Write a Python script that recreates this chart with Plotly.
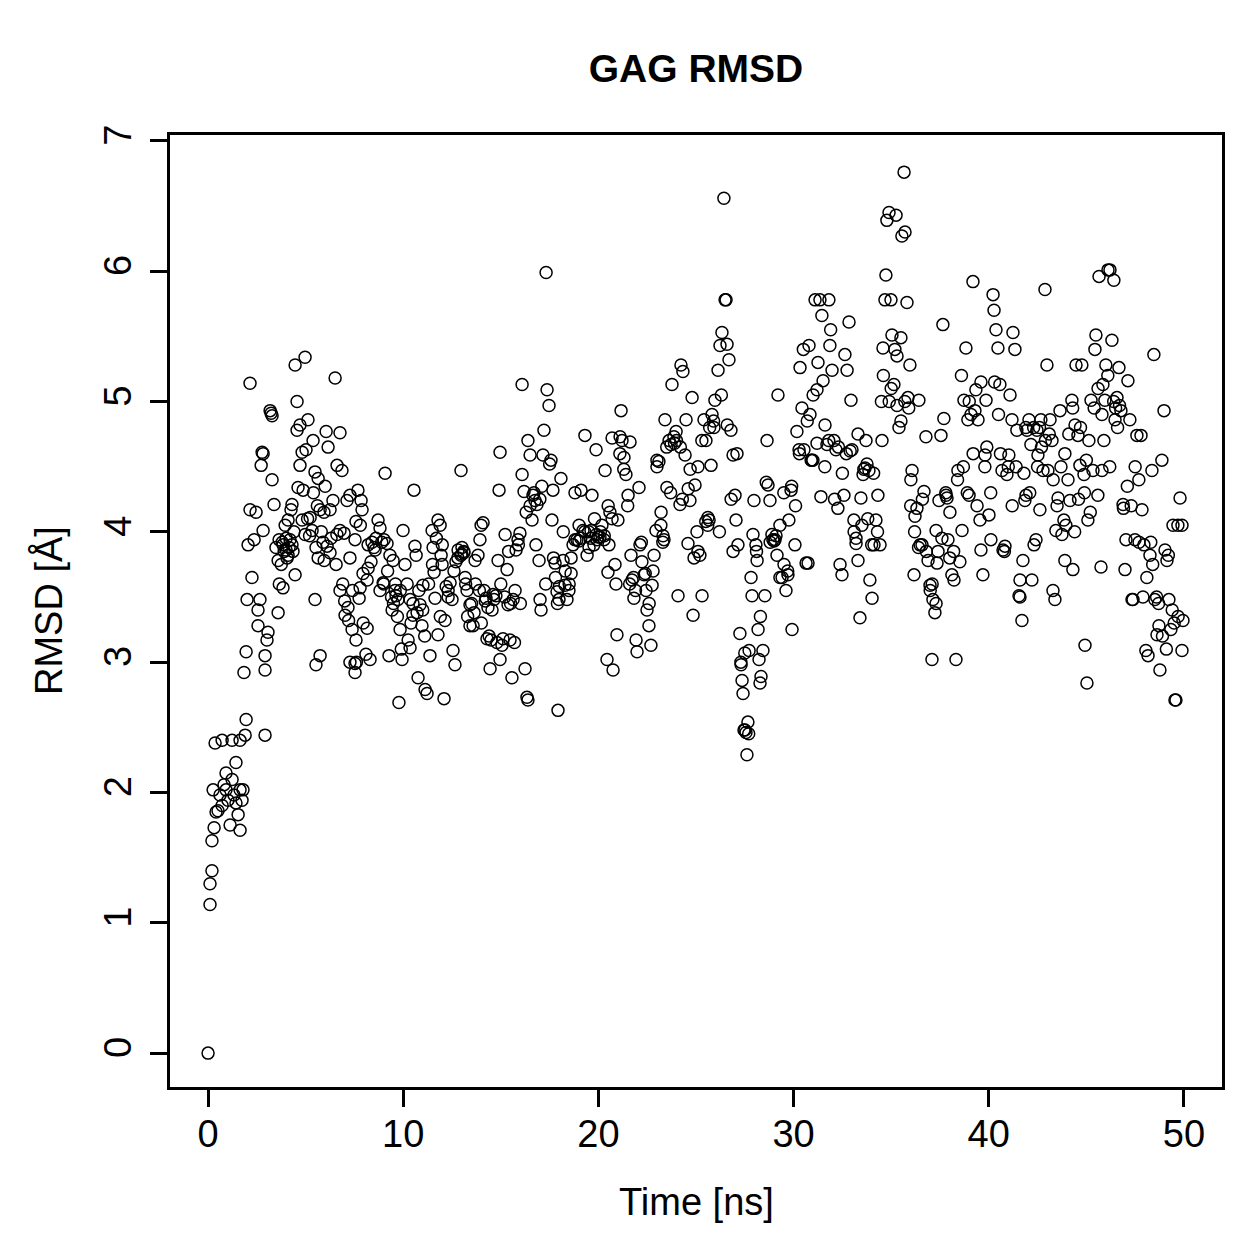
import plotly.graph_objects as go

# ---- data: simulation time [ns] and GAG RMSD [Å] ----
time_0_10 = [0, .10, .10, .20, .20, .31, .26, .36, .72, 1.23, 1.64, 1.43, .92, .51, .72, 1.02, 1.33, 1.64, 1.74, 1.54, 1.13, 1.64, .61, .92, 1.23, 1.90, 1.95, 1.79, .41, .82, 1.43,
             2.15, 1.84, 1.95, 2.00, 2.05, 2.15, 2.25, 2.36, 2.46, 2.56, 2.56, 2.66, 2.77, 2.82, 2.72, 2.82, 2.92, 2.92, 2.92, 3.02, 3.07, 3.18, 3.23, 3.28, 3.28, 3.38, 3.48, 3.59, 3.64, 3.59, 3.84, 3.84, 4.00, 4.10, 4.20, 4.25, 4.10, 4.30,
             4.46, 4.97, 4.56, 4.56, 4.71, 4.82, 5.02, 4.71, 4.61, 4.87, 5.12, 5.38, 4.30, 4.46, 4.82, 4.97, 5.23, 5.33, 5.48, 5.64, 5.53, 5.64, 5.48, 5.53, 5.74, 5.74, 5.94, 6.05, 6.15, 5.89, 6.10, 6.25, 6.25, 6.40,
             6.51, 6.61, 6.86, 6.76, 6.76, 6.97, 7.12, 7.27, 6.56, 6.76, 7.02, 7.17, 7.27, 7.53, 7.53, 7.27, 7.53, 7.58, 7.68, 7.84, 7.89, 7.38, 7.58, 7.74, 7.79, 7.94,
             8.15, 8.20, 8.35, 8.09, 8.30, 8.15, 8.40, 8.56, 8.71, 8.81, 8.81, 8.97, 9.07, 9.02, 9.17, 9.32, 9.27, 9.43, 9.58, 9.48, 9.63, 9.73, 9.84, 9.78, 9.94, 9.99]
rmsd_0_10 = [0, 1.14, 1.30, 1.40, 1.63, 1.73, 2.02, 2.38, 2.40, 2.40, 2.40, 2.23, 2.15, 1.86, 1.90, 1.94, 1.98, 2.02, 1.94, 1.83, 1.75, 1.71, 1.98, 2.02, 2.10, 2.44, 2.56, 2.02, 1.85, 2.06, 1.92,
             5.14, 2.92, 3.08, 3.48, 3.90, 4.17, 3.65, 3.94, 4.15, 3.40, 3.28, 3.48, 4.61, 4.60, 4.51, 4.01, 2.44, 2.94, 3.05, 3.17, 3.23, 4.93, 4.91, 4.89, 4.40, 4.21, 3.88, 3.78, 3.94, 3.38, 3.57, 3.90, 3.86, 3.82, 3.94, 4.17, 4.09, 3.90,
             5.28, 5.34, 5.00, 4.78, 4.82, 4.61, 4.63, 4.51, 4.34, 4.32, 4.86, 4.70, 4.21, 3.67, 4.09, 3.98, 4.11, 4.01, 4.46, 4.41, 3.88, 3.80, 3.48, 2.98, 3.05, 4.17, 4.15, 4.77, 4.65, 3.92, 3.89, 3.84, 4.17, 4.24,
             5.18, 4.51, 4.47, 4.76, 4.01, 3.99, 4.24, 4.28, 3.75, 3.55, 3.36, 3.42, 3.00, 2.92, 2.99, 3.80, 3.94, 4.08, 4.32, 4.24, 4.17, 3.25, 3.17, 3.49, 3.57, 3.68,
             3.63, 3.72, 3.77, 3.06, 3.02, 3.26, 3.92, 3.86, 4.09, 4.03, 3.55, 3.61, 4.45, 3.94, 3.91, 3.82, 3.05, 3.40, 3.55, 3.78, 3.51, 3.48, 3.25, 2.69, 3.02, 4.01]

time_10_20 = [10.09, 10.25, 10.35, 10.35, 10.55, 10.60, 10.66, 10.50, 10.71, 10.76, 10.86, 10.96, 11.01, 11.12, 11.22, 11.37, 11.48, 11.53, 11.58, 11.63, 11.78, 11.78, 11.89, 11.94, 11.99,
              12.09, 12.14, 12.30, 12.40, 12.50, 12.55, 12.65, 12.70, 12.81, 12.96, 12.96, 13.01, 13.11, 13.17, 13.27, 13.42, 13.42, 13.58, 13.63, 13.68, 13.83, 13.93, 13.99,
              14.09, 14.14, 14.24, 14.34, 14.29, 14.45, 14.50, 14.55, 14.65, 14.75, 14.86, 14.91, 14.96, 14.96, 15.06, 15.11, 15.22, 15.32, 15.37, 15.47, 15.57, 15.63, 15.73, 15.78, 15.88, 15.98,
              16.09, 16.09, 16.19, 16.24, 16.34, 16.39, 16.39, 16.50, 16.60, 16.65, 16.75, 16.85, 16.96, 17.01, 17.06, 17.16, 17.21, 17.32, 17.37, 17.47, 17.57, 17.62, 17.67, 17.78, 17.88, 17.93, 17.98,
              18.08, 18.19, 18.29, 18.39, 18.49, 18.60, 18.70, 18.80, 18.90, 19.01, 19.11, 19.21, 19.31, 19.42, 19.52, 19.62, 19.67, 19.77, 19.88, 19.93, 19.98]
rmsd_10_20 = [3.75, 3.17, 3.11, 3.48, 4.32, 3.89, 3.82, 3.36, 3.38, 2.88, 3.44, 3.28, 3.59, 2.79, 2.76, 3.05, 4.01, 3.88, 3.69, 3.49, 3.21, 4.09, 4.05, 3.82, 3.75,
              2.72, 3.32, 3.55, 3.61, 3.48, 3.09, 2.98, 3.77, 3.86, 4.47, 3.82, 3.88, 3.84, 3.65, 3.55, 3.44, 3.28, 3.28, 3.38, 3.78, 3.82, 3.94, 4.05,
              4.07, 3.55, 3.49, 3.42, 3.18, 2.95, 3.17, 3.40, 3.48, 3.51, 3.78, 4.32, 4.61, 3.02, 3.13, 3.18, 3.98, 3.71, 3.44, 3.17, 2.88, 3.48, 3.55, 3.86, 3.94, 3.99,
              5.13, 4.44, 4.31, 2.95, 2.73, 2.71, 4.70, 4.59, 4.09, 4.28, 4.24, 4.21, 3.78, 3.48, 3.40, 4.59, 4.78, 5.99, 5.09, 4.97, 4.55, 4.09, 4.32, 3.76, 3.54, 2.63, 3.48,
              4.41, 3.78, 3.59, 3.48, 3.55, 3.68, 3.90, 3.94, 3.94, 4.05, 4.32, 4.01, 4.74, 3.82, 3.88, 4.01, 4.28, 3.90, 4.63, 3.94, 3.96]

time_20_30 = [20.08, 20.18, 20.29, 20.34, 20.44, 20.49, 20.54, 20.59, 20.70, 20.75, 20.85, 20.95, 21.00, 21.11, 21.16, 21.21, 21.31, 21.41, 21.52, 21.62, 21.67, 21.72, 21.82, 21.93,
              21.98, 22.08, 22.13, 22.23, 22.34, 22.44, 22.49, 22.59, 22.69, 22.75, 22.85, 22.95, 23.00, 23.10, 23.21, 23.31, 23.36, 23.41, 23.51, 23.62, 23.72, 23.77, 23.87, 23.98,
              24.08, 24.18, 24.23, 24.33, 24.44, 24.49, 24.59, 24.69, 24.80, 24.85, 24.95, 25.05, 25.10, 25.20, 25.31, 25.41, 25.51, 25.61, 25.67, 25.77, 25.82, 25.92, 25.97,
              26.13, 26.23, 26.33, 26.43, 26.49, 26.54, 26.59, 26.69, 26.79, 26.90, 27.00, 27.05, 27.15, 27.25, 27.31, 27.36, 27.41, 27.46, 27.51, 27.56, 27.61, 27.66, 27.72, 27.82, 27.87, 27.92, 27.97,
              28.07, 28.13, 28.18, 28.23, 28.28, 28.33, 28.43, 28.53, 28.64, 28.69, 28.79, 28.89, 28.94, 29.05, 29.15, 29.20, 29.30, 29.41, 29.51, 29.61, 29.71, 29.76, 29.87, 29.92]
rmsd_20_30 = [3.96, 4.05, 3.94, 4.47, 3.02, 3.69, 3.90, 4.15, 4.72, 2.94, 3.75, 3.21, 4.09, 4.73, 4.93, 4.70, 4.57, 4.44, 4.28, 4.69, 3.82, 3.63, 3.49, 3.17,
              3.08, 4.34, 3.90, 3.77, 3.67, 3.55, 3.40, 3.28, 3.13, 3.59, 3.82, 4.01, 4.55, 4.54, 4.15, 3.97, 3.94, 4.86, 4.34, 4.70, 4.67, 5.13, 4.73, 4.77,
              3.51, 4.21, 5.28, 5.23, 4.59, 4.86, 3.91, 4.24, 5.03, 3.36, 4.36, 4.00, 3.85, 3.82, 3.51, 4.86, 4.70, 4.11, 4.09, 4.51, 4.90, 4.80, 5.01,
              5.24, 5.43, 5.53, 6.56, 5.78, 5.78, 5.44, 5.32, 4.78, 4.59, 4.28, 4.09, 3.90, 3.22, 2.98, 2.86, 2.76, 2.48, 2.48, 2.46, 2.29, 2.54, 3.09, 3.65, 3.51, 3.98, 4.24,
              3.90, 3.78, 3.25, 3.02, 2.84, 2.89, 3.09, 3.51, 4.70, 4.36, 4.24, 3.98, 3.94, 3.94, 3.82, 5.05, 4.05, 3.65, 3.75, 3.55, 3.67, 4.09, 4.32, 3.25]

time_30_40 = [30.07, 30.17, 30.28, 30.33, 30.43, 30.53, 30.64, 30.74, 30.79, 30.84, 30.94, 30.99, 31.10, 31.20, 31.25, 31.35, 31.45, 31.51, 31.61, 31.71, 31.81, 31.86, 31.97,
              32.07, 32.17, 32.27, 32.38, 32.48, 32.58, 32.63, 32.74, 32.84, 32.94, 32.99, 33.09, 33.20, 33.30, 33.40, 33.45, 33.56, 33.66, 33.71, 33.76, 33.86, 33.91,
              34.02, 34.12, 34.22, 34.32, 34.43, 34.53, 34.58, 34.68, 34.73, 34.78, 34.89, 34.99, 35.04, 35.14, 35.19, 35.25, 35.30, 35.40, 35.50, 35.55, 35.66, 35.71, 35.81, 35.86, 35.96,
              36.01, 36.07, 36.17, 36.22, 36.32, 36.42, 36.48, 36.58, 36.68, 36.78, 36.89, 36.99, 37.09, 37.14, 37.24, 37.30, 37.35, 37.45, 37.55, 37.65, 37.70, 37.81, 37.86, 37.91,
              38.01, 38.11, 38.22, 38.32, 38.42, 38.52, 38.63, 38.73, 38.83, 38.93, 38.99, 39.09, 39.19, 39.29, 39.34, 39.45, 39.55, 39.60, 39.70, 39.81, 39.86]
rmsd_30_40 = [3.90, 4.77, 4.63, 5.26, 4.95, 4.63, 3.76, 3.76, 5.43, 4.90, 4.55, 4.55, 5.78, 5.09, 5.30, 5.78, 5.66, 5.16, 4.82, 4.67, 5.78, 5.43, 5.24,
              4.70, 4.63, 4.18, 3.75, 3.67, 4.28, 5.36, 5.24, 5.61, 5.01, 4.63, 4.09, 3.91, 3.78, 3.34, 4.26, 4.44, 4.49, 4.70, 4.52, 4.47, 3.63,
              3.49, 3.90, 4.09, 4.28, 3.90, 4.70, 5.41, 5.78, 5.97, 6.39, 6.45, 5.78, 5.51, 5.13, 5.40, 6.43, 4.97, 4.80, 5.49, 6.27, 6.76, 6.30, 5.76, 5.03, 5.28,
              4.40, 4.47, 3.67, 4.12, 4.18, 5.01, 3.90, 3.90, 4.31, 4.73, 3.78, 3.59, 3.02, 3.48, 3.38, 4.01, 3.76, 4.24, 4.74, 5.59, 4.87, 4.28, 4.26, 3.94,
              4.15, 3.67, 3.63, 3.02, 4.47, 3.77, 4.01, 5.01, 5.41, 4.86, 4.28, 4.90, 5.92, 4.93, 5.09, 4.86, 4.09, 3.86, 3.67, 4.59, 5.01]

time_40_50 = [40.01, 40.11, 40.22, 40.27, 40.37, 40.47, 40.57, 40.68, 40.73, 40.83, 40.93, 41.03, 41.09, 41.19, 41.24, 41.34, 41.44, 41.55, 41.60, 41.70, 41.75, 41.85, 41.91, 41.96,
              42.06, 42.16, 42.21, 42.32, 42.42, 42.47, 42.52, 42.62, 42.67, 42.78, 42.88, 42.98, 43.03, 43.14, 43.24, 43.29, 43.39, 43.44, 43.55, 43.65, 43.75, 43.85, 43.90, 43.95,
              44.06, 44.16, 44.26, 44.31, 44.42, 44.47, 44.57, 44.67, 44.77, 44.88, 44.93, 45.03, 45.08, 45.13, 45.24, 45.34, 45.44, 45.49, 45.59, 45.65, 45.75, 45.80, 45.85, 45.95,
              46.00, 46.11, 46.21, 46.31, 46.41, 46.47, 46.57, 46.67, 46.77, 46.88, 46.98, 47.03, 47.13, 47.23, 47.34, 47.39, 47.49, 47.59, 47.69, 47.80, 47.85, 47.95,
              48.05, 48.16, 48.26, 48.36, 48.46, 48.51, 48.62, 48.72, 48.77, 48.87, 48.98, 49.03, 49.13, 49.23, 49.33, 49.44, 49.54, 49.59, 49.69, 49.80, 49.90, 49.95]
rmsd_40_50 = [4.13, 3.94, 5.82, 5.70, 5.55, 5.41, 5.13, 4.47, 3.86, 3.89, 4.44, 4.59, 5.05, 4.86, 5.53, 5.40, 4.78, 3.51, 3.63, 3.32, 3.78, 4.24, 4.28, 4.78,
              4.86, 4.67, 3.63, 3.90, 3.94, 4.78, 4.59, 4.17, 4.86, 4.47, 5.86, 5.28, 4.47, 4.86, 4.70, 3.55, 3.48, 4.01, 4.26, 4.93, 3.98, 4.09, 3.78, 4.05,
              4.40, 4.24, 5.01, 3.71, 4.82, 5.28, 4.74, 4.51, 5.28, 4.44, 3.13, 2.84, 4.09, 4.70, 5.01, 4.47, 5.40, 5.51, 4.28, 5.96, 3.73, 4.47, 5.13, 5.01,
              5.28, 6.01, 6.01, 5.47, 5.93, 4.86, 5.03, 5.26, 4.93, 4.21, 3.71, 3.94, 5.16, 4.86, 3.48, 3.48, 3.94, 4.74, 4.40, 4.74, 4.17, 3.90,
              3.09, 3.05, 3.82, 4.47, 5.36, 3.48, 3.21, 3.28, 2.94, 4.55, 4.93, 3.86, 3.78, 3.48, 3.25, 4.05, 2.71, 2.71, 4.05, 4.26, 3.09, 3.32]

# additional frames inside the dense bands
time_dense_0_25 = [3.9, 4.0, 4.05, 4.15, 4.35, 3.75, 3.95, 4.4, 3.65, 3.8,
                   5.1, 5.2, 5.4, 5.6, 5.8, 5.95, 6.0, 6.3,
                   6.6, 6.9, 7.0, 7.2, 7.4, 7.6, 7.8, 7.95,
                   8.2, 8.5, 8.6, 8.9, 9.0, 9.2, 9.4, 9.5, 9.6, 9.7, 9.9, 9.85,
                   10.2, 10.4, 10.5, 10.8, 11.0, 11.1, 11.3, 11.5, 11.7, 11.9, 12.0,
                   12.2, 12.3, 12.6, 12.8, 13.0, 13.1, 13.2, 13.3, 13.5, 13.7, 13.9, 14.0,
                   14.2, 14.4, 14.6, 14.8, 15.0, 15.2, 15.4, 15.5, 15.7, 15.9, 16.0,
                   16.3, 16.5, 16.7, 16.8, 17.0, 17.1, 17.3, 17.5, 17.7, 17.8, 17.9, 18.0,
                   18.2, 18.3, 18.5, 18.6, 18.8, 19.0, 19.1, 19.3, 19.5, 19.6, 19.8, 19.9,
                   20.1, 20.3, 20.5, 20.7, 20.9, 21.1, 21.3, 21.5, 21.6, 21.8, 21.9,
                   22.2, 22.4, 22.6, 22.8, 23.0, 23.2, 23.3, 23.5, 23.7, 23.9, 24.0,
                   24.2, 24.3, 24.6, 24.7, 24.9]
rmsd_dense_0_25 = [3.85, 3.95, 3.8, 3.88, 3.85, 3.75, 4.05, 4.0, 3.6, 3.92,
                   4.1, 3.97, 4.3, 4.2, 4.0, 3.78, 4.35, 3.95,
                   3.98, 3.6, 3.47, 3.32, 3.55, 3.0, 4.05, 3.3,
                   3.9, 3.88, 3.95, 3.92, 3.6, 3.7, 3.5, 3.45, 3.6, 3.35, 3.1, 3.55,
                   3.6, 3.3, 3.45, 3.55, 3.4, 3.2, 3.6, 3.75, 3.95, 3.35, 3.9,
                   3.58, 3.5, 3.7, 3.8, 3.83, 3.85, 3.6, 3.35, 3.45, 3.6, 3.55, 3.3,
                   3.47, 3.2, 3.52, 3.15, 3.6, 3.5, 3.85, 3.45, 3.15, 3.9, 3.45,
                   4.15, 4.2, 4.3, 3.9, 4.25, 4.35, 3.6, 4.52, 3.8, 3.65, 3.45, 3.58,
                   4.0, 3.7, 3.6, 3.8, 4.3, 3.93, 3.95, 4.0, 4.0, 3.95, 4.1, 3.98,
                   4.0, 3.97, 4.2, 4.1, 3.6, 4.6, 4.48, 4.2, 3.6, 3.65, 3.55,
                   3.92, 3.68, 3.45, 3.7, 4.5, 4.05, 3.92, 4.65, 4.3, 4.68, 4.7,
                   4.65, 4.25, 4.33, 4.48, 3.8]

time_dense_25_50 = [25.1, 25.3, 25.5, 25.6, 25.7, 25.9,
                    26.2, 26.3, 26.6, 26.8, 26.9, 27.1, 27.3, 27.5, 27.7,
                    28.1, 28.3, 28.6, 28.8, 29.0, 29.1, 29.3, 29.5, 29.7, 29.9,
                    30.1, 30.3, 30.5, 30.7, 30.9, 31.0, 31.2, 31.4, 31.6, 31.8, 31.9,
                    32.1, 32.3, 32.5, 32.7, 32.9, 33.1, 33.2, 33.3, 33.5, 33.6, 33.8, 34.0,
                    34.1, 34.3, 34.5, 34.6, 34.9, 35.0, 35.3, 35.5, 35.7, 35.9, 36.0,
                    36.2, 36.4, 36.6, 36.8, 37.0, 37.1, 37.3, 37.4, 37.6, 37.8, 38.0,
                    38.2, 38.4, 38.6, 38.7, 38.9, 39.0, 39.2, 39.4, 39.6, 39.8, 39.9,
                    40.1, 40.3, 40.5, 40.6, 40.8, 41.0, 41.2, 41.4, 41.6, 41.8, 41.9,
                    42.1, 42.3, 42.5, 42.6, 42.7, 42.9, 43.1, 43.3, 43.5, 43.7, 43.9,
                    44.1, 44.3, 44.4, 44.6, 44.7, 44.9, 45.0, 45.2, 45.4, 45.6, 45.8, 45.9,
                    46.1, 46.2, 46.4, 46.5, 46.6, 46.7, 46.9, 47.1, 47.3, 47.5, 47.7, 47.9,
                    48.1, 48.3, 48.4, 48.6, 48.7, 48.9, 49.1, 49.2, 49.4, 49.5, 49.7, 49.9]
rmsd_dense_25_50 = [4.5, 4.7, 4.08, 4.05, 4.8, 4.85,
                    4.0, 5.05, 4.82, 4.25, 3.85, 4.6, 3.0, 3.07, 2.45,
                    3.85, 3.35, 4.38, 3.92, 3.93, 3.97, 3.65, 4.3, 3.7, 4.35,
                    4.2, 4.6, 5.4, 4.85, 4.55, 5.05, 4.68, 4.27, 4.5, 4.7, 5.55,
                    4.25, 4.65, 4.45, 4.6, 4.62, 4.0, 3.95, 4.75, 4.05, 4.48, 4.1, 3.9,
                    4.45, 4.0, 5.0, 5.2, 5.0, 5.1, 5.35, 4.85, 5.0, 4.95, 4.2,
                    4.0, 3.88, 4.25, 3.85, 3.55, 3.6, 3.45, 3.85, 3.95, 4.3, 3.8,
                    3.85, 4.4, 5.2, 4.5, 4.3, 5.0, 4.6, 4.2, 5.15, 4.5, 4.65,
                    4.3, 5.15, 4.9, 4.6, 3.85, 4.5, 4.2, 4.5, 3.5, 4.45, 4.8,
                    4.3, 4.8, 4.5, 4.8, 4.65, 4.7, 4.75, 4.4, 4.2, 4.5, 4.6,
                    4.75, 4.95, 4.0, 4.25, 4.8, 4.3, 4.55, 4.15, 4.95, 5.1, 4.9, 4.7,
                    5.2, 4.5, 5.0, 4.95, 4.8, 4.97, 4.18, 4.35, 4.2, 4.5, 3.92, 3.5,
                    3.65, 3.92, 3.75, 3.5, 3.45, 3.2, 3.1, 3.82, 3.4, 3.3, 3.35, 4.05]

x_ticks = [0, 10, 20, 30, 40, 50]
y_ticks = [0, 1, 2, 3, 4, 5, 6, 7]

title_text = "GAG RMSD"
x_label = "Time [ns]"
y_label = "RMSD [Å]"

time_ns = []
rmsd = []
for t, r in [(time_0_10, rmsd_0_10), (time_10_20, rmsd_10_20), (time_20_30, rmsd_20_30),
             (time_30_40, rmsd_30_40), (time_40_50, rmsd_40_50),
             (time_dense_0_25, rmsd_dense_0_25), (time_dense_25_50, rmsd_dense_25_50)]:
    n = min(len(t), len(r))
    time_ns += t[:n]
    rmsd += r[:n]

FONT = "Liberation Sans, Arial, Helvetica, sans-serif"

fig = go.Figure()
fig.add_trace(go.Scatter(
    x=time_ns, y=rmsd, mode="markers",
    marker=dict(symbol="circle-open", size=12, color="black", line=dict(width=1.5, color="black")),
    showlegend=False, hoverinfo="x+y",
))

axis_common = dict(
    showline=True, linecolor="black", linewidth=3, mirror=True,
    ticks="outside", ticklen=17, tickwidth=2.5, tickcolor="black",
    showgrid=False, zeroline=False,
    tickfont=dict(family=FONT, size=38, color="black"),
)

fig.update_layout(
    width=1259, height=1259,
    paper_bgcolor="white", plot_bgcolor="white",
    margin=dict(l=170, r=37, t=135, b=172),
    title=dict(text="<b>" + title_text + "</b>", x=696 / 1259, xanchor="center",
               y=1 - 68 / 1259, yanchor="middle",
               font=dict(family=FONT, size=39, color="black")),
    xaxis=dict(range=[-1.95, 51.95], tickvals=x_ticks, ticktext=[str(v) for v in x_ticks],
               ticklabelstandoff=-6, **axis_common),
    yaxis=dict(range=[-0.26, 7.045], tickvals=y_ticks, ticktext=[str(v) for v in y_ticks],
               tickangle=-90, ticklabelstandoff=4, **axis_common),
    annotations=[
        dict(text=x_label, xref="paper", yref="paper", x=0.5, y=(1087 - 1202) / 952,
             xanchor="center", yanchor="middle", showarrow=False,
             font=dict(family=FONT, size=38, color="black")),
        dict(text=y_label, xref="paper", yref="paper", x=(48 - 170) / 1052, y=(1087 - 611) / 952,
             xanchor="center", yanchor="middle", textangle=-90, showarrow=False,
             font=dict(family=FONT, size=38, color="black")),
    ],
)

fig.write_html("out.html")
